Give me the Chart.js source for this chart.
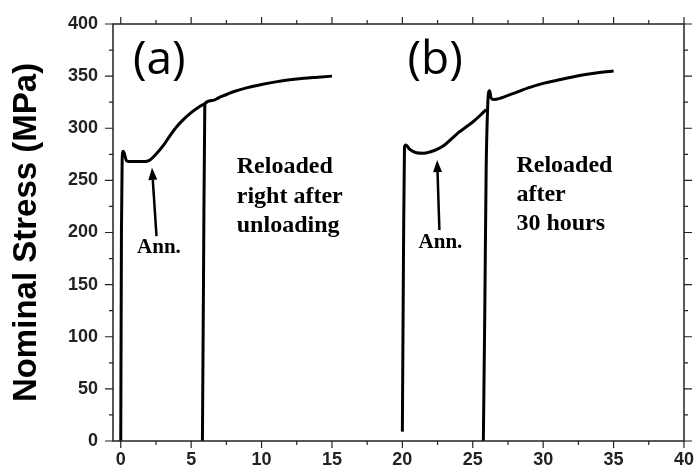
<!DOCTYPE html>
<html>
<head>
<meta charset="utf-8">
<script src="https://cdn.jsdelivr.net/npm/chart.js@4.4.1/dist/chart.umd.min.js"></script>
<style>
  html, body { margin: 0; padding: 0; background: #fff; }
  #wrap { width: 695px; height: 468px; position: relative; }
</style>
</head>
<body>
<div id="wrap"><canvas id="stressChart"></canvas></div>
<script>
// first loading (a)
const loadAx = [0, 0.05, 0.1, 0.18, 0.25, 0.4, 0.6, 1.0, 1.5, 2.0, 2.5, 3.0, 3.5, 4.0, 4.5, 5.0, 5.5, 5.97];
const loadAy = [0, 200, 270, 278, 276, 269, 268, 268, 268, 269, 275, 283, 293, 302, 309, 315, 320, 323.5];
// reloaded right after unloading (a)
const reloadAx = [5.8, 5.88, 5.97, 6.5, 7, 8, 9, 10, 11, 12, 13, 14, 15];
const reloadAy = [0, 160, 323.5, 326.5, 329.5, 335, 339, 342, 344.5, 346.5, 348, 349, 350];
// first loading (b)
const loadBx = [20.0, 20.08, 20.15, 20.25, 20.5, 21.0, 21.5, 22.0, 22.5, 23.0, 23.5, 24.0, 24.5, 25.0, 25.5, 25.95];
const loadBy = [9, 180, 282, 284, 280, 276.5, 276, 277.5, 280, 284, 290, 296, 301, 306, 312, 318];
// reloaded after 30 hours (b)
const reloadBx = [25.75, 25.85, 25.95, 26.05, 26.12, 26.2, 26.3, 26.5, 27, 27.5, 28, 29, 30, 31, 32, 33, 34, 35];
const reloadBy = [0, 120, 260, 318, 334, 336, 329, 327.5, 329, 331.5, 334, 339, 343, 346, 349, 351.5, 353.5, 355];

const xTicks = [0, 5, 10, 15, 20, 25, 30, 35, 40];
const yTicks = [0, 50, 100, 150, 200, 250, 300, 350, 400];

function pts(xs, ys) {
  return xs.map((x, i) => ({ x: x, y: ys[i] }));
}

function curve(xs, ys) {
  return {
    data: pts(xs, ys),
    showLine: true,
    borderColor: '#000',
    borderWidth: 3,
    pointRadius: 0,
    cubicInterpolationMode: 'monotone',
    fill: false
  };
}

// text and arrows, placed in data units
const notes = [
  { text: '(a)', x: 0.87, y: 352.5, font: '46px "Open Sans"' },
  { text: '(b)', x: 20.36, y: 352, font: '46px "Open Sans"' },
  { text: 'Reloaded', x: 8.24, y: 257, font: 'bold 24px "Liberation Serif"' },
  { text: 'right after', x: 8.24, y: 228.5, font: 'bold 24px "Liberation Serif"' },
  { text: 'unloading', x: 8.24, y: 200.5, font: 'bold 24px "Liberation Serif"' },
  { text: 'Reloaded', x: 28.1, y: 258, font: 'bold 24px "Liberation Serif"' },
  { text: 'after', x: 28.1, y: 230, font: 'bold 24px "Liberation Serif"' },
  { text: '30 hours', x: 28.1, y: 202, font: 'bold 24px "Liberation Serif"' },
  { text: 'Ann.', x: 1.16, y: 180, font: 'bold 21px "Liberation Serif"' },
  { text: 'Ann.', x: 21.15, y: 185, font: 'bold 21px "Liberation Serif"' }
];
const arrows = [
  { x0: 2.54, y0: 196.6, x1: 2.22, y1: 262 },
  { x0: 22.63, y0: 202.4, x1: 22.47, y1: 269.5 }
];

const framePlugin = {
  id: 'frame',
  afterDraw(chart) {
    const ctx = chart.ctx;
    const a = chart.chartArea;
    const sx = chart.scales.x;
    const sy = chart.scales.y;
    ctx.save();
    ctx.strokeStyle = '#222';
    ctx.lineWidth = 1.5;
    ctx.strokeRect(a.left, a.top, a.right - a.left, a.bottom - a.top);
    ctx.lineWidth = 1.2;
    ctx.beginPath();
    for (let v = 0; v <= 40; v += 2.5) {
      const px = sx.getPixelForValue(v);
      const len = v % 5 === 0 ? 7 : 4;
      ctx.moveTo(px, a.bottom); ctx.lineTo(px, a.bottom + len);
      ctx.moveTo(px, a.top); ctx.lineTo(px, a.top - len);
    }
    for (let v = 0; v <= 400; v += 25) {
      const py = sy.getPixelForValue(v);
      const len = v % 50 === 0 ? 8 : 4;
      ctx.moveTo(a.left, py); ctx.lineTo(a.left - len, py);
      ctx.moveTo(a.right, py); ctx.lineTo(a.right + len, py);
    }
    ctx.stroke();

    ctx.fillStyle = '#000';
    ctx.textAlign = 'left';
    ctx.textBaseline = 'alphabetic';
    notes.forEach(n => {
      ctx.font = n.font;
      ctx.fillText(n.text, sx.getPixelForValue(n.x), sy.getPixelForValue(n.y));
    });

    ctx.strokeStyle = '#000';
    ctx.lineWidth = 2.5;
    arrows.forEach(ar => {
      const x0 = sx.getPixelForValue(ar.x0), y0 = sy.getPixelForValue(ar.y0);
      const x1 = sx.getPixelForValue(ar.x1), y1 = sy.getPixelForValue(ar.y1);
      const ang = Math.atan2(y1 - y0, x1 - x0);
      const hl = 12, hw = 4.5;
      const bx = x1 - hl * Math.cos(ang), by = y1 - hl * Math.sin(ang);
      ctx.beginPath();
      ctx.moveTo(x0, y0); ctx.lineTo(bx, by);
      ctx.stroke();
      ctx.beginPath();
      ctx.moveTo(x1, y1);
      ctx.lineTo(bx + hw * Math.sin(ang), by - hw * Math.cos(ang));
      ctx.lineTo(bx - hw * Math.sin(ang), by + hw * Math.cos(ang));
      ctx.closePath();
      ctx.fill();
    });
    ctx.restore();
  }
};

new Chart(document.getElementById('stressChart'), {
  type: 'scatter',
  data: {
    datasets: [
      curve(loadAx, loadAy),
      curve(reloadAx, reloadAy),
      curve(loadBx, loadBy),
      curve(reloadBx, reloadBy)
    ]
  },
  options: {
    responsive: true,
    maintainAspectRatio: false,
    animation: false,
    layout: {
      padding: { top: 24, right: 10, left: 0, bottom: 0 }
    },
    plugins: {
      legend: { display: false },
      tooltip: { enabled: false }
    },
    scales: {
      x: {
        type: 'linear',
        min: -0.55,
        max: 40,
        grid: { display: false, drawTicks: true, tickLength: 7 },
        border: { display: false },
        afterBuildTicks: s => { s.ticks = xTicks.map(v => ({ value: v })); },
        afterFit: s => { s.height = 27; },
        ticks: {
          padding: 1,
          maxRotation: 0,
          color: '#222',
          font: { family: '"Liberation Sans", Arial', size: 18, weight: 'bold' }
        }
      },
      y: {
        type: 'linear',
        min: 0,
        max: 400,
        grid: { display: false, drawTicks: true, tickLength: 8 },
        border: { display: false },
        afterBuildTicks: s => { s.ticks = yTicks.map(v => ({ value: v })); },
        afterFit: s => { s.width = 113; },
        title: {
          display: true,
          text: 'Nominal Stress (MPa)',
          color: '#000',
          padding: { top: 7, bottom: 0 },
          font: { family: '"Liberation Sans", Arial', size: 33, weight: 'bold' }
        },
        ticks: {
          padding: 7,
          color: '#222',
          font: { family: '"Liberation Sans", Arial', size: 18, weight: 'bold' }
        }
      }
    }
  },
  plugins: [framePlugin]
});
</script>
</body>
</html>
